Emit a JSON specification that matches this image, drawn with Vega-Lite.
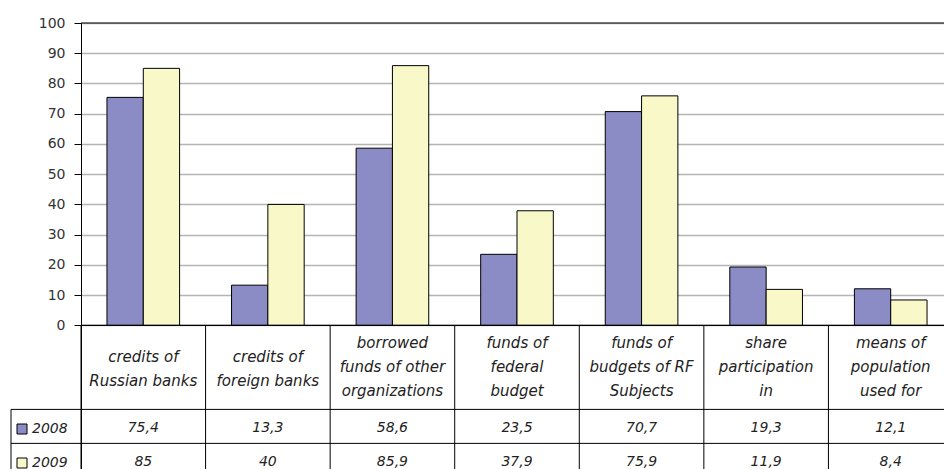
{
  "$schema": "https://vega.github.io/schema/vega-lite/v6.json",
  "padding": {"left": 10, "top": 16, "right": 0, "bottom": 0},
  "spacing": 0,
  "bounds": "flush",
  "config": {
    "view": {"stroke": null},
    "font": "DejaVu Sans",
    "locale": {"number": {"decimal": ",", "thousands": " ", "grouping": [3], "currency": ["", ""]}}
  },
  "datasets": {
    "d": [
      {"cat": "credits of\nRussian banks", "year": "2008", "value": 75.4},
      {"cat": "credits of\nRussian banks", "year": "2009", "value": 85},
      {"cat": "credits of\nforeign banks", "year": "2008", "value": 13.3},
      {"cat": "credits of\nforeign banks", "year": "2009", "value": 40},
      {"cat": "borrowed\nfunds of other\norganizations", "year": "2008", "value": 58.6},
      {"cat": "borrowed\nfunds of other\norganizations", "year": "2009", "value": 85.9},
      {"cat": "funds of\nfederal\nbudget", "year": "2008", "value": 23.5},
      {"cat": "funds of\nfederal\nbudget", "year": "2009", "value": 37.9},
      {"cat": "funds of\nbudgets of RF\nSubjects", "year": "2008", "value": 70.7},
      {"cat": "funds of\nbudgets of RF\nSubjects", "year": "2009", "value": 75.9},
      {"cat": "share\nparticipation\nin", "year": "2008", "value": 19.3},
      {"cat": "share\nparticipation\nin", "year": "2009", "value": 11.9},
      {"cat": "means of\npopulation\nused for", "year": "2008", "value": 12.1},
      {"cat": "means of\npopulation\nused for", "year": "2009", "value": 8.4}
    ]
  },
  "hconcat": [
    {
      "width": 70,
      "height": 446,
      "data": {"values": [{}]},
      "layer": [
        {"mark": {"type": "rule", "color": "#000", "strokeWidth": 1},
         "encoding": {"y": {"datum": -27.79, "scale": {"domain": [-47.5, 100], "nice": false, "zero": false}, "axis": null}}},
        {"mark": {"type": "rule", "color": "#000", "strokeWidth": 1},
         "encoding": {"y": {"datum": -39.03}}},
        {"mark": {"type": "rule", "color": "#000", "strokeWidth": 1},
         "encoding": {"x": {"datum": 0, "type": "quantitative", "scale": {"domain": [0, 1]}, "axis": null},
                      "y": {"datum": -27.79}, "y2": {"datum": -47.5}}}
      ]
    },
    {
      "width": 864,
      "height": 446,
      "data": {"name": "d"},
      "layer": [
        {
          "mark": {"type": "bar", "stroke": "#000", "strokeWidth": 1},
          "encoding": {
            "x": {"field": "cat", "type": "nominal", "sort": null, "scale": {"range": [0, 872], "paddingInner": 0, "paddingOuter": 0}, "axis": null},
            "xOffset": {"field": "year", "type": "nominal", "scale": {"paddingInner": 0, "paddingOuter": 0.715}},
            "y": {"field": "value", "type": "quantitative",
                  "scale": {"domain": [-47.5, 100], "nice": false, "zero": false},
                  "axis": {"values": [0, 10, 20, 30, 40, 50, 60, 70, 80, 90, 100], "title": null, "grid": true,
                           "gridColor": "#b4b4b4", "gridWidth": 1.3, "domainColor": "#000", "domainWidth": 1,
                           "tickColor": "#000", "tickSize": 7, "labelPadding": 9, "labelFontSize": 14,
                           "labelColor": "#333", "labelFont": "DejaVu Sans"}},
            "y2": {"datum": 0},
            "color": {"field": "year", "type": "nominal",
                      "scale": {"domain": ["2008", "2009"], "range": ["#8b8bc5", "#f9f8c8"]},
                      "legend": {"orient": "none", "legendX": 4, "legendY": 399, "title": null,
                                 "symbolType": "square", "symbolSize": 100, "symbolStrokeColor": "#000",
                                 "symbolStrokeWidth": 1, "symbolOpacity": 1, "labelFontSize": 14,
                                 "labelFontStyle": "italic", "labelOffset": 3, "rowPadding": 20,
                                 "labelColor": "#222", "labelFont": "DejaVu Sans"}}
          }
        },
        {"data": {"values": [{}]}, "mark": {"type": "rule", "color": "#000", "strokeWidth": 1.2},
         "encoding": {"y": {"datum": 100}}},
        {"data": {"values": [{}]}, "mark": {"type": "rule", "color": "#000", "strokeWidth": 1.2},
         "encoding": {"y": {"datum": 0}}},
        {"data": {"values": [{}]}, "mark": {"type": "rule", "color": "#000", "strokeWidth": 1},
         "encoding": {"y": {"datum": -27.79}}},
        {"data": {"values": [{}]}, "mark": {"type": "rule", "color": "#000", "strokeWidth": 1},
         "encoding": {"y": {"datum": -39.03}}},
        {"transform": [{"filter": "datum.year == '2008'"}],
         "mark": {"type": "rule", "color": "#000", "strokeWidth": 1},
         "encoding": {"x": {"field": "cat", "type": "nominal", "sort": null, "bandPosition": 0},
                      "y": {"datum": 0}, "y2": {"datum": -47.5}}},
        {"transform": [{"filter": "datum.year == '2008' && indexof(datum.cat, '\\n') == lastindexof(datum.cat, '\\n')"}],
         "mark": {"type": "text", "lineBreak": "\n", "lineHeight": 24, "fontStyle": "italic", "fontSize": 15, "color": "#222", "baseline": "alphabetic"},
         "encoding": {"x": {"field": "cat", "type": "nominal", "sort": null},
                      "y": {"datum": -12.1}, "text": {"field": "cat"}}},
        {"transform": [{"filter": "datum.year == '2008' && indexof(datum.cat, '\\n') != lastindexof(datum.cat, '\\n')"}],
         "mark": {"type": "text", "lineBreak": "\n", "lineHeight": 24, "fontStyle": "italic", "fontSize": 15, "color": "#222", "baseline": "alphabetic"},
         "encoding": {"x": {"field": "cat", "type": "nominal", "sort": null},
                      "y": {"datum": -7.6}, "text": {"field": "cat"}}},
        {"transform": [{"filter": "datum.year == '2008'"}],
         "mark": {"type": "text", "fontStyle": "italic", "fontSize": 14, "color": "#222", "baseline": "middle"},
         "encoding": {"x": {"field": "cat", "type": "nominal", "sort": null},
                      "y": {"datum": -34.1}, "text": {"field": "value", "type": "quantitative", "format": "~f"}}},
        {"transform": [{"filter": "datum.year == '2009'"}],
         "mark": {"type": "text", "fontStyle": "italic", "fontSize": 14, "color": "#222", "baseline": "middle"},
         "encoding": {"x": {"field": "cat", "type": "nominal", "sort": null},
                      "y": {"datum": -45.3}, "text": {"field": "value", "type": "quantitative", "format": "~f"}}}
      ]
    }
  ]
}
